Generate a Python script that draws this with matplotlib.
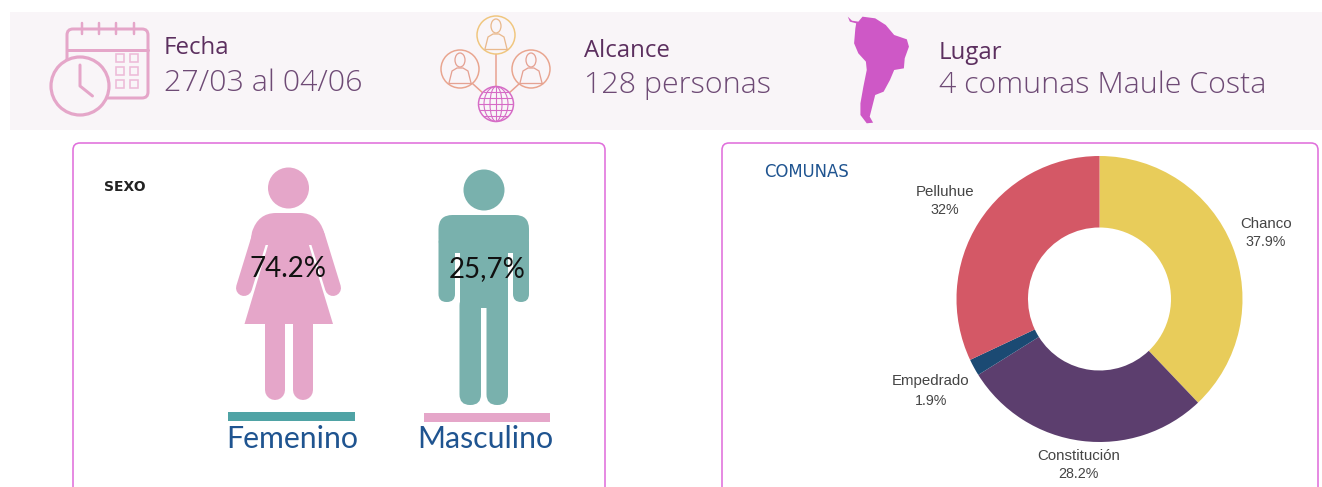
## chart rebuilt on a single axes measured in image pixels, donut gets its own axes
import matplotlib
matplotlib.use("Agg")
from matplotlib import pyplot as plt
from matplotlib.patches import Circle, Ellipse, FancyBboxPatch, PathPatch, Polygon
from matplotlib.path import Path

## data
comunas = ["Chanco", "Constitución", "Empedrado", "Pelluhue"]
comunas_pct = [37.9, 28.2, 1.9, 32]
comunas_txt = ["37.9%", "28.2%", "1.9%", "32%"]
comunas_colors = ["#E8CC5A", "#5C3E6E", "#1B4A73", "#D45866"]
sexo_labels = ["Femenino", "Masculino"]
sexo_txt = ["74.2%", "25,7%"]

W, H = 1322, 487
PINK = "#E5A6C9"
TEAL = "#79B1AD"
BLUE = "#1F5490"
BAND = "#F9F5F8"
BORDER = "#E070DC"
HEAD_DARK = "#5C2F5F"
HEAD_SOFT = "#6E4A75"
PX = 0.72

fig = plt.figure(figsize=(W / 100, H / 100), dpi=100)
ax = fig.add_axes([0, 0, 1, 1])
ax.set_xlim(0, W)
ax.set_ylim(H, 0)
ax.axis("off")


def rrect(x0, y0, x1, y1, r, fc="none", ec="none", lw=0, z=2):
    p = FancyBboxPatch((x0 + r, y0 + r), x1 - x0 - 2 * r, y1 - y0 - 2 * r,
                       boxstyle="round,pad=%f,rounding_size=%f" % (r, r),
                       fc=fc, ec=ec, lw=lw, zorder=z)
    ax.add_patch(p)


def stroke(xs, ys, color, px, z=3):
    ax.plot(xs, ys, color=color, lw=px * PX, solid_capstyle="round", zorder=z)


def ring(cx, cy, r, color, px=1.5, z=3, fc=BAND):
    ax.add_patch(Circle((cx, cy), r, fc=fc, ec=color, lw=px * PX, zorder=z))


def person(cx, cy, color):
    ax.add_patch(Ellipse((cx, cy - 7), 10, 14, fc="none", ec=color, lw=1.3 * PX, zorder=5))
    ax.plot([cx - 11, cx - 8, cx - 3, cx + 3, cx + 8, cx + 11],
            [cy + 16, cy + 4, cy + 1, cy + 1, cy + 4, cy + 16],
            color=color, lw=1.3 * PX, zorder=5)
    ax.plot([cx - 11, cx + 11], [cy + 16, cy + 16], color=color, lw=1.3 * PX, zorder=5)


## top band
ax.add_patch(plt.Rectangle((10, 12), W - 10, 118, fc=BAND, ec="none", zorder=1))

## calendar + clock icon
rrect(67, 29, 148, 98, 6, ec=PINK, lw=3 * PX, z=2)
stroke([67, 148], [50, 50], PINK, 3)
for x in [82, 99, 116, 134]:
    stroke([x, x], [23, 34], PINK, 2.5)
for y0 in [54, 67, 80]:
    for x0 in [116, 130]:
        ax.add_patch(plt.Rectangle((x0, y0), 8, 8, fc="none", ec="#EDBBD8", lw=1.6 * PX, zorder=2))
ring(80, 86, 29, PINK, 3.2)
stroke([80, 80, 92.5], [65, 86, 96], PINK, 3, z=4)

## network icon
stroke([496, 496], [54, 90], "#E8A090", 1.5, z=2)
stroke([473, 484], [84, 94], "#E8A090", 1.5, z=2)
stroke([519, 508], [84, 94], "#E8A090", 1.5, z=2)
ring(496, 35, 19, "#F0C67E")
ring(460, 69, 19, "#E9A58F")
ring(531, 69, 19, "#E9A58F")
person(496, 33, "#E9B98E")
person(460, 67, "#E5A293")
person(531, 67, "#E5A293")
ring(496, 104, 17.5, "#D66BC6")
for w in [12, 24]:
    ax.add_patch(Ellipse((496, 104), w, 35, fc="none", ec="#D66BC6", lw=1.1 * PX, zorder=4))
stroke([496, 496], [87, 121], "#D66BC6", 1.1, z=4)
for y, half in [(92, 12), (98, 16), (104, 17), (110, 16), (116, 12)]:
    stroke([496 - half, 496 + half], [y, y], "#D66BC6", 1.1, z=4)

sa_crop = [(445, 50), (455, 62), (470, 65), (480, 50), (510, 55), (535, 75), (555, 105),
           (585, 118), (590, 140), (580, 175), (578, 205), (555, 210), (545, 240),
           (530, 275), (510, 285), (503, 320), (497, 350), (505, 368), (490, 370),
           (475, 345), (475, 310), (482, 260), (490, 210), (488, 185), (470, 160),
           (460, 130), (463, 85), (465, 70), (450, 65)]
ax.add_patch(Polygon([(660 + x / 2.37, y / 3) for x, y in sa_crop], fc="#CE58C6", ec="none", zorder=2))

## header texts
for x, y, s, fs, c, wt in [(164, 48, "Fecha", 17.3, HEAD_DARK, "normal"), (164, 83, "27/03 al 04/06", 21.9, HEAD_SOFT, "light"),
                           (584, 51, "Alcance", 17.3, HEAD_DARK, "normal"), (584, 85, "128 personas", 21.9, HEAD_SOFT, "light"),
                           (939, 53, "Lugar", 17.3, HEAD_DARK, "normal"), (939, 85, "4 comunas Maule Costa", 21.85, HEAD_SOFT, "light")]:
    ax.text(x, y, s, fontsize=fs, color=c, family="Open Sans", weight=wt, va="center", ha="left", zorder=6)

## panels, their bottom edge falls outside the picture
rrect(73, 143, 605, 520, 7, fc="white", ec=BORDER, lw=1.6 * PX, z=1)
rrect(722, 143, 1318, 520, 7, fc="white", ec=BORDER, lw=1.6 * PX, z=1)
ax.text(104, 187, "SEXO", fontsize=10, color="#222222", family="DejaVu Sans", weight="bold", va="center")
ax.text(764, 172, "COMUNAS", fontsize=11.9, color=BLUE, family="DejaVu Sans", va="center")

## woman
ax.add_patch(Circle((288.5, 188), 20.5, fc=PINK, ec="none", zorder=2))
verts = [(268, 245), (250, 245), (252, 232), (258, 213), (276, 213), (300, 213), (318, 213), (324, 232), (326, 245), (308, 245), (268, 245)]
codes = [Path.MOVETO, Path.LINETO, Path.LINETO, Path.CURVE3, Path.CURVE3, Path.LINETO, Path.CURVE3, Path.CURVE3, Path.LINETO, Path.LINETO, Path.CLOSEPOLY]
ax.add_patch(PathPatch(Path(verts, codes), fc=PINK, ec="none", zorder=2))
ax.add_patch(Polygon([(269, 242), (244.5, 324), (333, 324), (308, 242)], fc=PINK, ec="none", zorder=2))
stroke([260, 244], [236, 288], PINK, 16, z=2)
stroke([317, 333], [236, 288], PINK, 16, z=2)
stroke([275, 275], [320, 390], PINK, 20, z=2)
stroke([302.5, 302.5], [320, 390], PINK, 20, z=2)

## man
ax.add_patch(Circle((484, 190), 20.5, fc=TEAL, ec="none", zorder=2))
rrect(438.5, 215, 529, 253, 14, fc=TEAL, z=2)
rrect(438.5, 235, 455, 302, 8, fc=TEAL, z=2)
rrect(513, 235, 529, 302, 8, fc=TEAL, z=2)
ax.add_patch(plt.Rectangle((459.5, 240), 48.5, 68, fc=TEAL, ec="none", zorder=2))
rrect(459.5, 295, 481, 405, 10.5, fc=TEAL, z=2)
rrect(486.5, 295, 508, 405, 10.5, fc=TEAL, z=2)

## bars + labels under the figures
ax.add_patch(plt.Rectangle((227.5, 411.5), 127.5, 9, fc="#4FA3A5", ec="none", zorder=2))
ax.add_patch(plt.Rectangle((424, 413), 126, 9, fc=PINK, ec="none", zorder=2))
ax.text(292.5, 439, sexo_labels[0], fontsize=21.8, color=BLUE, family="Lato", ha="center", va="center", zorder=6)
ax.text(485, 439, sexo_labels[1], fontsize=21.8, color=BLUE, family="Lato", ha="center", va="center", zorder=6)
ax.text(288, 269, sexo_txt[0], fontsize=20, color="#111111", family="Lato", ha="center", va="center", zorder=6)
ax.text(487, 269, sexo_txt[1], fontsize=20, color="#111111", family="Lato", ha="center", va="center", zorder=6)

## donut
cx, cy, r = 1099.5, 299, 143
pie_ax = fig.add_axes([(cx - r) / W, 1 - (cy + r) / H, 2 * r / W, 2 * r / H])
pie_ax.pie(comunas_pct, colors=comunas_colors, startangle=90, counterclock=False, radius=1,
           wedgeprops={"width": 0.5, "edgecolor": "none"})
pie_ax.set_xlim(-1, 1)
pie_ax.set_ylim(-1, 1)
pie_ax.patch.set_alpha(0)

label_pos = [(1266, 224, 242), (1078.5, 456, 474), (931, 381, 401), (945, 192, 210)]
for name, txt, (x, y1, y2) in zip(comunas, comunas_txt, label_pos):
    ax.text(x, y1, name, fontsize=10.8, color="#444444", family="Liberation Sans", ha="center", va="center", zorder=6)
    ax.text(x, y2, txt, fontsize=10.3, color="#444444", family="Liberation Sans", ha="center", va="center", zorder=6)

plt.savefig("out.png", dpi=100)
